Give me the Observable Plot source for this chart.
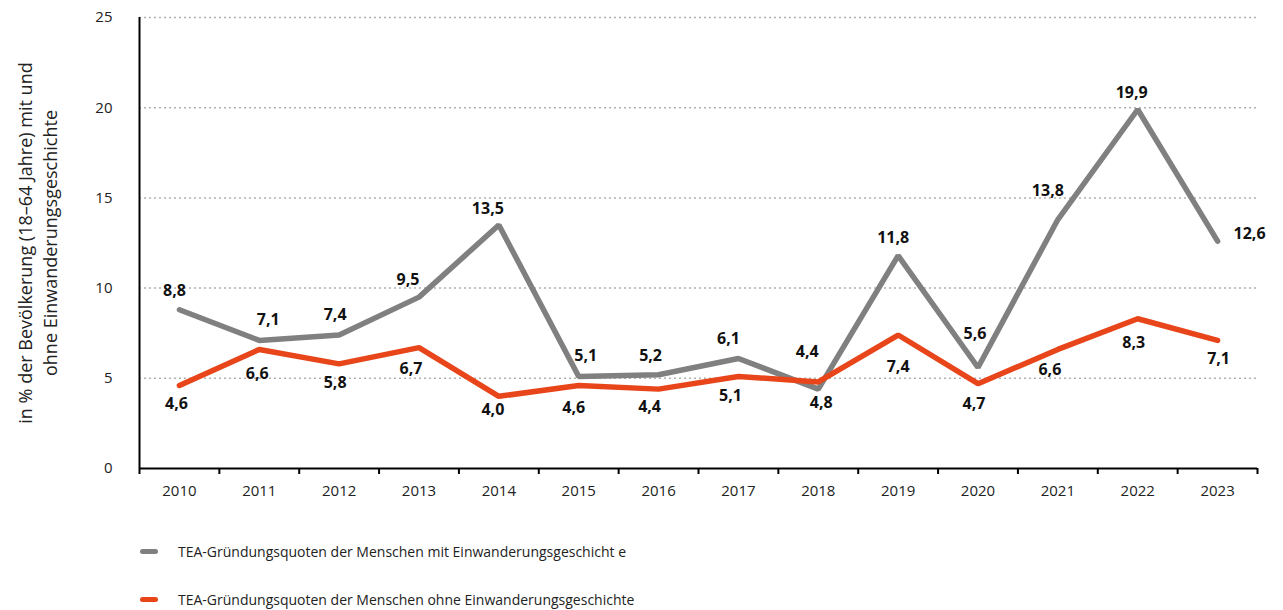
<!DOCTYPE html>
<html>
<head>
<meta charset="utf-8">
<script src="https://cdn.jsdelivr.net/npm/d3@7"></script>
<script src="https://cdn.jsdelivr.net/npm/@observablehq/plot@0.6"></script>
<style>
  body { margin: 0; background: #fff; font-family: "Open Sans", sans-serif; }
  #chart { position: relative; width: 1283px; }
  .legend { position: relative; width: 1283px; height: 90px; }
  .row { position: absolute; left: 140px; display: flex; align-items: center; height: 20px; font-size: 14px; color: #222; }
  .sw { width: 18px; height: 5px; border-radius: 3px; margin-right: 20px; }
</style>
</head>
<body>
<div id="chart"></div>
<script>
const years = [2010, 2011, 2012, 2013, 2014, 2015, 2016, 2017, 2018, 2019, 2020, 2021, 2022, 2023];
const mit  = [8.8, 7.1, 7.4, 9.5, 13.5, 5.1, 5.2, 6.1, 4.4, 11.8, 5.6, 13.8, 19.9, 12.6];
const ohne = [4.6, 6.6, 5.8, 6.7, 4.0, 4.6, 4.4, 5.1, 4.8, 7.4, 4.7, 6.6, 8.3, 7.1];
const seriesNames = [
  "TEA-Gründungsquoten der Menschen mit Einwanderungsgeschicht e",
  "TEA-Gründungsquoten der Menschen ohne Einwanderungsgeschichte"
];
const seriesColors = ["#808080", "#e8461a"];
const yTicks = [0, 5, 10, 15, 20, 25];
const yLabel = "in % der Bevölkerung (18–64 Jahre) mit und\nohne Einwanderungsgeschichte";

// label placement (layout only, pixel offsets from each point)
const offMit  = [[-5,-19],[9,-21],[-4,-20],[-11,-17],[-11,-16],[7,-21],[-8,-19],[-10,-20],[-11,-37],[-5,-18],[-3,-34],[-10,-29],[-6,-17],[32,-7]];
const offOhne = [[-3,18],[-2,24],[-4,19],[-8,21],[-6,14],[-5,22],[-9,18],[-8,19],[3,21],[0,32],[-4,20],[-8,20],[-4,24],[1,18]];

const fmt = v => d3.format(".1f")(v).replace(".", ",");
const rows = [];
years.forEach((yr, i) => {
  rows.push({year: yr, value: mit[i], series: seriesNames[0]});
  rows.push({year: yr, value: ohne[i], series: seriesNames[1]});
});
const bounds = d3.range(years.length + 1).map(i => years[0] - 0.5 + i);

const labelMarks = [];
years.forEach((yr, i) => {
  labelMarks.push(Plot.text([{year: yr, value: mit[i]}], {x: "year", y: "value", text: d => fmt(d.value), dx: offMit[i][0], dy: offMit[i][1], fontSize: 16, fontWeight: "bold", fill: "#111"}));
  labelMarks.push(Plot.text([{year: yr, value: ohne[i]}], {x: "year", y: "value", text: d => fmt(d.value), dx: offOhne[i][0], dy: offOhne[i][1], fontSize: 16, fontWeight: "bold", fill: "#111"}));
});

const plot = Plot.plot({
  width: 1283,
  height: 520,
  marginTop: 17,
  marginBottom: 52,
  marginLeft: 139,
  marginRight: 26,
  style: {fontFamily: "Open Sans, sans-serif", background: "#fff", color: "#222"},
  x: {domain: [bounds[0], bounds[bounds.length - 1]], axis: null, label: null},
  y: {domain: [0, 25], axis: null, label: null},
  color: {domain: seriesNames, range: seriesColors},
  marks: [
    Plot.ruleY(yTicks.filter(d => d > 0), {stroke: "#b0b0b0", strokeWidth: 1.5, strokeDasharray: "2,3"}),
    Plot.axisY({ticks: yTicks, tickSize: 0, tickPadding: 27, fontSize: 15, label: null, tickFormat: d => String(d)}),
    Plot.axisX({ticks: years, tickSize: 0, tickPadding: 17, fontSize: 15, label: null, tickFormat: d => String(d)}),
    Plot.axisX({ticks: bounds, tickSize: 6, tickPadding: 0, label: null, tickFormat: () => "", stroke: "#000", strokeWidth: 2}),
    Plot.ruleY([0], {stroke: "#000", strokeWidth: 2}),
    Plot.ruleX([bounds[0]], {y1: 0, y2: 25, stroke: "#000", strokeWidth: 2}),
    Plot.line(rows, {x: "year", y: "value", z: "series", stroke: "series", strokeWidth: 5.5, strokeLinecap: "round", strokeLinejoin: "miter"}),
    ...labelMarks,
    Plot.text([yLabel], {frameAnchor: "left", textAnchor: "middle", rotate: -90, dx: -103, fontSize: 18, lineHeight: 1.39, fill: "#222"})
  ]
});
document.getElementById("chart").appendChild(plot);

const legend = document.createElement("div");
legend.className = "legend";
seriesNames.forEach((name, i) => {
  const r = document.createElement("div");
  r.className = "row";
  r.style.top = (21 + i * 48) + "px";
  const sw = document.createElement("div");
  sw.className = "sw";
  sw.style.background = seriesColors[i];
  const t = document.createElement("span");
  t.textContent = name;
  r.appendChild(sw);
  r.appendChild(t);
  legend.appendChild(r);
});
document.getElementById("chart").appendChild(legend);
</script>
</body>
</html>
